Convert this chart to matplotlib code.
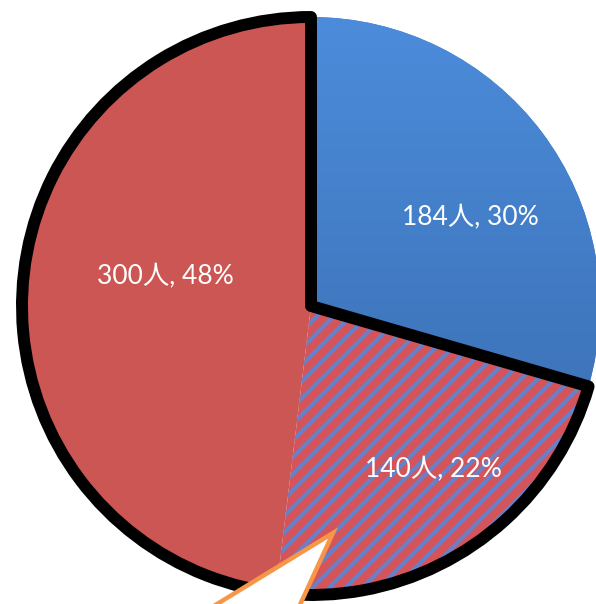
import matplotlib.pyplot as plt
import numpy as np
from matplotlib.patches import Wedge, Polygon

plt.rcParams['hatch.linewidth'] = 3.0

counts = [184, 140, 300]
unit = "人"
colors = ["#3F78C2", "#D4545A", "#CC5653"]

W, H = 596, 604
cx, cy, R = 311, H - 306, 289

fig = plt.figure(figsize=(W / 100, H / 100), dpi=100)
ax = fig.add_axes([0, 0, 1, 1])

# percentages rounded so they add up to 100 (largest remainder)
total = sum(counts)
raw = [c * 100 / total for c in counts]
pcts = [int(v) for v in raw]
order = sorted(range(len(raw)), key=lambda i: raw[i] - pcts[i], reverse=True)
for i in order[:100 - sum(pcts)]:
    pcts[i] += 1
labels = [f"{c}{unit}, {p}%" for c, p in zip(counts, pcts)]

wedges, _ = ax.pie(counts, colors=colors, startangle=90, counterclock=False,
                   center=(cx, cy), radius=R, wedgeprops=dict(linewidth=0))

# blue slice: vertical gradient
blue = wedges[0]
grad = np.linspace(0, 1, 256).reshape(-1, 1, 1)
top = np.array([0x4C, 0x8C, 0xDB]) / 255
bot = np.array([0x36, 0x67, 0xA8]) / 255
img = top + (bot - top) * grad * np.ones((1, 2, 1))
im = ax.imshow(img, extent=[cx, cx + R, cy - R, cy + R], origin="upper",
               aspect="auto", zorder=1.5)
im.set_clip_path(blue)

# hatched slice
hatched = wedges[1]
hatched.set_edgecolor("#6880C8")
hatched.set_hatch("//")

# black outline round the red and hatched slices together
blue_end = 90 - 360 * counts[0] / total
ax.add_patch(Wedge((cx, cy), R, 90, blue_end + 360, fill=False,
                   edgecolor="black", linewidth=8.6, joinstyle="round", zorder=3))

# label text
label_pos = [(470, 218), (433, 470), (165, 277)]
for (x, y), t in zip(label_pos, labels):
    ax.text(x, H - y, t, color="white", fontsize=19, ha="center", va="center",
            family=["Lato", "Noto Sans CJK JP"], zorder=4)

# callout pointer
ax.add_patch(Polygon([(333, H - 533), (191, H - 620), (293, H - 620)], closed=True,
                     facecolor="white", edgecolor="#F79646", linewidth=3.2, zorder=5))

ax.set_xlim(0, W)
ax.set_ylim(0, H)
ax.set_aspect("auto")
ax.axis("off")

fig.savefig("out.png", dpi=100)
